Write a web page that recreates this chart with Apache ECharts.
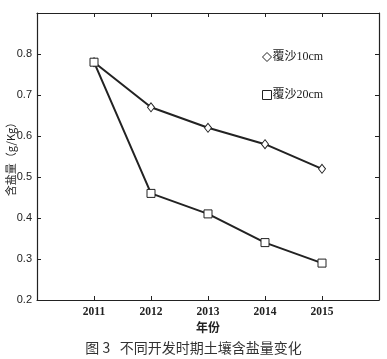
<!DOCTYPE html>
<html><head><meta charset="utf-8">
<script src="https://cdn.jsdelivr.net/npm/echarts@6/dist/echarts.min.js"></script>
<style>html,body{margin:0;padding:0;background:#fff}#c{width:387px;height:359px}</style>
</head><body><div id="c"></div>
<script>
var years = [2011, 2012, 2013, 2014, 2015];
var sand10 = [0.78, 0.67, 0.62, 0.58, 0.52];
var sand20 = [0.78, 0.46, 0.41, 0.34, 0.29];
var seriesNames = ['覆沙10cm', '覆沙20cm'];
var yTicks = [0.2, 0.3, 0.4, 0.5, 0.6, 0.7, 0.8];

var ink = '#222';
function pairs(v){ return years.map(function(y,i){return [y, v[i]];}); }
var chart = echarts.init(document.getElementById('c'));
var axisLine = {show:true, lineStyle:{color:ink, width:1.2}};
var tick = {show:true, inside:true, length:4, lineStyle:{color:ink}};
chart.setOption({
  backgroundColor:'#fff',
  animation:false,
  grid:{left:37, right:8, top:13, bottom:59, containLabel:false, outerBoundsMode:'none'},
  title:{text:'图 3   不同开发时期土壤含盐量变化', left:'center', top:336,
    textStyle:{fontFamily:'"Noto Sans CJK SC"', fontWeight:'normal', fontSize:14, color:'#333'}},
  legend:{orient:'vertical', left:257, top:46, itemGap:26, itemWidth:9, itemHeight:9,
    textStyle:{fontFamily:'"Liberation Serif","Noto Sans CJK SC"', fontSize:12, color:ink, padding:[0,0,0,-4]},
    data:[
      {name:seriesNames[0], icon:'diamond', itemStyle:{color:'#fff', borderColor:ink, borderWidth:1}},
      {name:seriesNames[1], icon:'rect', itemStyle:{color:'#fff', borderColor:ink, borderWidth:1}}
    ]},
  xAxis:[{type:'value', min:2010, max:2016, interval:1, position:'bottom',
    name:'年份', nameLocation:'middle', nameGap:21, nameMoveOverlap:false,
    nameTextStyle:{fontFamily:'"Noto Sans CJK SC"', fontWeight:'bold', fontSize:12, color:ink},
    axisLine:axisLine, axisTick:tick, splitLine:{show:false},
    axisLabel:{color:ink, fontFamily:'"Liberation Serif"', fontWeight:'bold', fontSize:11.5, margin:6,
      formatter:function(v){ return years.indexOf(v)>=0 ? String(v) : ''; }}},
    {type:'value', min:2010, max:2016, interval:1, position:'top',
    axisLine:axisLine, axisTick:tick, splitLine:{show:false}, axisLabel:{show:false}}],
  yAxis:[{type:'value', min:0.2, max:0.9, interval:0.1, position:'left',
    name:'含盐量（g/Kg）', nameLocation:'middle', nameGap:21, nameRotate:90, nameMoveOverlap:false,
    nameTextStyle:{fontFamily:'"Noto Sans CJK SC"', fontSize:11, color:ink},
    axisLine:axisLine, axisTick:tick, splitLine:{show:false},
    axisLabel:{color:ink, fontFamily:'"Liberation Sans"', fontSize:11, margin:5,
      formatter:function(v){ var r=Math.round(v*10)/10; return yTicks.indexOf(r)>=0 ? r.toFixed(1) : ''; }}},
    {type:'value', min:0.2, max:0.9, interval:0.1, position:'right',
    axisLine:axisLine, axisTick:tick, splitLine:{show:false}, axisLabel:{show:false}}],
  series:[
    {name:seriesNames[0], type:'line', data:pairs(sand10), symbol:'diamond', symbolSize:[7,9],
      lineStyle:{color:ink, width:2}, itemStyle:{color:'#fff', borderColor:ink, borderWidth:1}},
    {name:seriesNames[1], type:'line', data:pairs(sand20), symbol:'rect', symbolSize:8,
      lineStyle:{color:ink, width:2}, itemStyle:{color:'#fff', borderColor:ink, borderWidth:1}}
  ]
});
</script></body></html>
